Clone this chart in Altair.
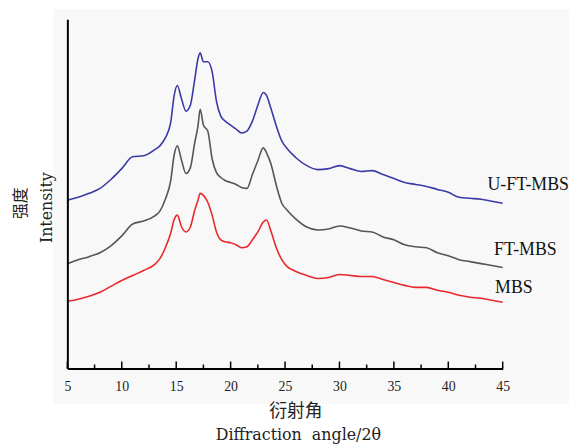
import altair as alt
import pandas as pd

# Diffraction angle 2θ (degrees)
angles = [5, 6, 7, 8, 9, 10, 11, 12, 13, 13.5, 14, 14.5, 14.8, 15.1, 15.5, 15.9, 16.3, 16.7,
          17.0, 17.2, 17.5, 17.9, 18.3, 18.7, 19.1, 19.5, 20, 20.5, 21, 21.5, 22, 22.5,
          23.0, 23.3, 23.7, 24.2, 24.7, 25.2, 26, 27, 28, 29, 30, 31, 32, 33, 34, 35,
          36, 37, 38, 39, 40, 41, 42, 43, 44, 45]

# Intensity (a.u.)
u_ft_mbs = [170, 173, 177, 182, 191, 202, 214, 215, 221, 225, 233, 249, 275, 286, 272, 260, 266, 292,
            313, 319, 310, 310, 300, 270, 255, 250, 246, 242, 238, 240, 250, 266,
            279, 276, 263, 245, 230, 222, 213, 205, 201, 202, 205, 202, 199, 200, 196, 192,
            188, 186, 184, 181, 178, 173, 172, 171, 169, 167]
ft_mbs = [106, 110, 113, 117, 124, 134, 146, 149, 154, 159, 171, 190, 215, 225, 210, 197, 203, 228,
          245, 262, 246, 240, 212, 198, 193, 190, 188, 186, 183, 182, 196, 210,
          223, 218, 207, 185, 167, 160, 151, 143, 140, 141, 144, 142, 139, 138, 133, 130,
          125, 123, 122, 117, 114, 110, 108, 106, 104, 102]
mbs = [68, 70, 73, 77, 83, 89, 94, 99, 105, 111, 122, 137, 150, 155, 143, 138, 143, 160,
       170, 177, 175, 168, 155, 138, 130, 128, 127, 125, 122, 123, 130, 138,
       148, 150, 139, 122, 110, 103, 98, 94, 91, 92, 95, 94, 93, 93, 90, 87,
       84, 82, 82, 79, 77, 74, 72, 71, 69, 67]

series_names = ["MBS", "FT-MBS", "U-FT-MBS"]
series_colors = ["#e8282c", "#555555", "#3a3aa6"]

label_text = ["U-FT-MBS", "FT-MBS", "MBS"]
label_angle = [43.6, 44.2, 44.3]
label_int = [185, 120, 81]

major_ticks = [5, 10, 15, 20, 25, 30, 35, 40, 45]
minor_ticks = [7.5, 12.5, 17.5, 22.5, 27.5, 32.5, 37.5, 42.5]

x_title_cn = "衍射角"
x_title_en = "Diffraction\u00a0 angle/2θ"
y_title_cn = "强度"
y_title_en = "Intensity"

rows = []
for name, vals in zip(series_names, [mbs, ft_mbs, u_ft_mbs]):
    for a, v in zip(angles, vals):
        rows.append({"angle": a, "intensity": v, "sample": name})
df = pd.DataFrame(rows)

labels_df = pd.DataFrame({"angle": label_angle, "intensity": label_int, "text": label_text})
major_df = pd.DataFrame({"angle": major_ticks})
minor_df = pd.DataFrame({"angle": minor_ticks})
one = pd.DataFrame({"a": [0]})

SERIF = "Liberation Serif, Noto Sans CJK SC"
WIDE = "DejaVu Serif"
CJK = "Noto Sans CJK SC"
xscale = alt.Scale(domain=[5, 45], nice=False, zero=False)
yscale = alt.Scale(domain=[0, 353], nice=False)

panel = alt.Chart(one).mark_rect(color="#f8f8f8").encode(
    x=alt.value(-14), x2=alt.value(509), y=alt.value(-10), y2=alt.value(389)
)

lines = alt.Chart(df).mark_line(strokeWidth=1.6, interpolate="monotone").encode(
    x=alt.X("angle:Q", scale=xscale,
            axis=alt.Axis(values=major_ticks, ticks=False, grid=False, domainColor="black",
                          domainWidth=2, labelFont=SERIF, labelFontSize=14, labelColor="#222",
                          labelPadding=11, labelFlush=False, zindex=2,
                          title=x_title_en, titleFont=WIDE,
                          titleFontSize=16, titleFontWeight="normal", titleColor="#222",
                          titleBaseline="alphabetic", titleX=233, titleY=72)),
    y=alt.Y("intensity:Q", scale=yscale,
            axis=alt.Axis(labels=False, ticks=False, grid=False, domainColor="black",
                          domainWidth=2, zindex=2, title=y_title_en, titleFont=WIDE,
                          titleFontSize=16, titleFontWeight="normal", titleColor="#222",
                          titleAngle=270, titleBaseline="bottom", titleAlign="center",
                          titleX=-13, titleY=190)),
    color=alt.Color("sample:N", scale=alt.Scale(domain=series_names, range=series_colors),
                    legend=None),
    detail="sample:N",
)

major = alt.Chart(major_df).mark_rule(color="black", strokeWidth=1.5).encode(
    x=alt.X("angle:Q", scale=xscale), y=alt.value(353), y2=alt.value(346)
)
minor = alt.Chart(minor_df).mark_rule(color="black", strokeWidth=1.5).encode(
    x=alt.X("angle:Q", scale=xscale), y=alt.value(353), y2=alt.value(349)
)

labels = alt.Chart(labels_df).mark_text(align="left", baseline="middle", font=SERIF,
                                        fontSize=18, color="#111").encode(
    x=alt.X("angle:Q", scale=xscale),
    y=alt.Y("intensity:Q", scale=yscale),
    text="text:N",
)

xcn = alt.Chart(one).mark_text(font=CJK, fontSize=18, color="#222", align="center",
                               baseline="middle").encode(
    x=alt.value(231), y=alt.value(397), text=alt.value(x_title_cn)
)
ycn = alt.Chart(one).mark_text(font=CJK, fontSize=16, color="#222", align="center",
                               baseline="middle", angle=270).encode(
    x=alt.value(-47), y=alt.value(186), text=alt.value(y_title_cn)
)

chart = alt.layer(panel, lines, major, minor, labels, xcn, ycn).properties(
    width=440, height=353,
    autosize=alt.AutoSizeParams(type="none"),
    padding={"left": 60, "top": 9, "right": 67, "bottom": 74},
    background="white",
).configure_view(stroke=None)

chart.save("out.html", embed_options={"renderer": "svg", "actions": False})
